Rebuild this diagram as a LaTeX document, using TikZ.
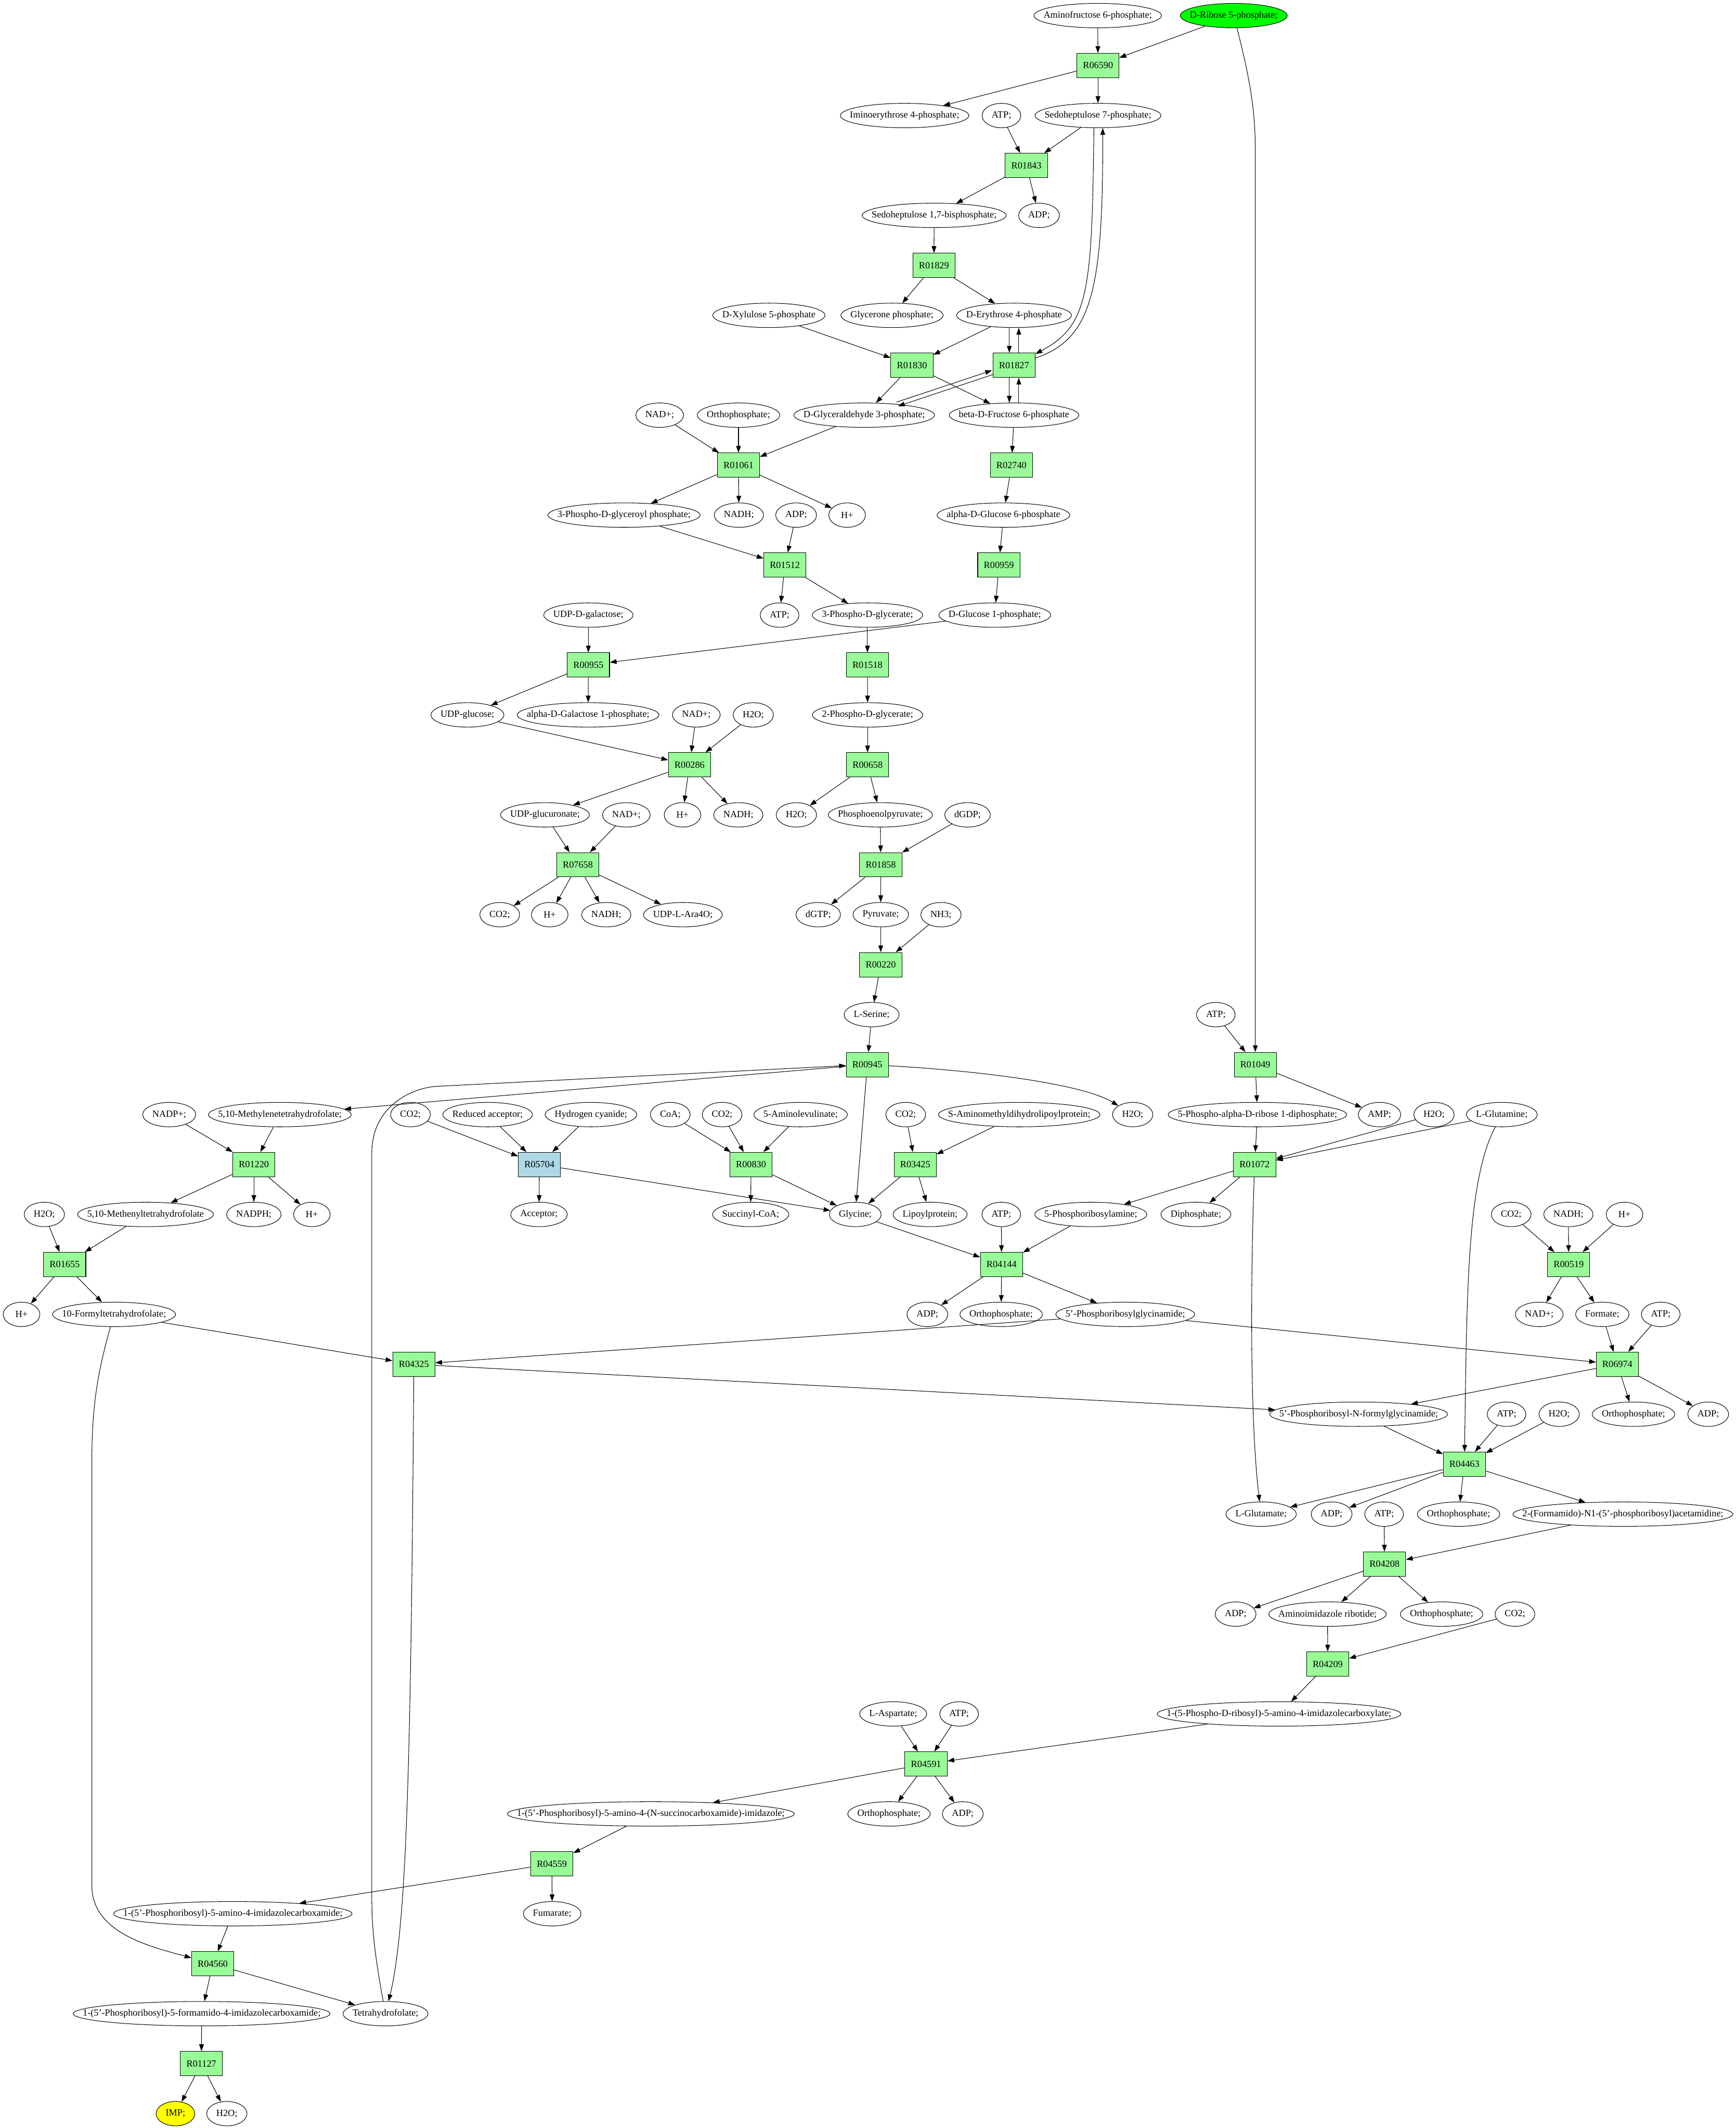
\documentclass[tikz,border=0pt]{standalone}
\usepackage{fontspec}
\setmainfont{Liberation Serif}
\usetikzlibrary{shapes.geometric,arrows.meta}
\newcommand{\mt}[1]{\makebox[0.707\width]{#1}}
\definecolor{pgreen}{HTML}{98FB98}
\definecolor{lblue}{HTML}{ADD8E6}
\definecolor{rgreen}{HTML}{00FF00}
\definecolor{impy}{HTML}{FFFF00}
\begin{document}
\begin{tikzpicture}[x=2pt,y=-2pt,
  every node/.style={font=\fontsize{14pt}{16pt}\selectfont},
  ell/.style={draw,ellipse,inner xsep=10pt,inner ysep=0pt,minimum width=54pt,minimum height=36pt,line width=0.8pt},
  rxn/.style={draw,rectangle,fill=pgreen,inner xsep=9pt,inner ysep=0pt,minimum width=54pt,minimum height=36pt,line width=0.8pt},
  arr/.style={-{Triangle[length=10pt,width=7pt]},line width=0.8pt}]
\fill[white] (0,0) rectangle (1280,1569);
\useasboundingbox (0,0) rectangle (1280,1569);
% row 0
\node[ell,fill=rgreen] (rib) at (909.8,11.5) {\mt{D-Ribose 5-phosphate;}};
\node[ell] (amf) at (809.5,11.5) {\mt{Aminofructose 6-phosphate;}};
\node[rxn] (r06590) at (809.7,48.3) {R06590};
\node[ell] (imino) at (667.1,85.2) {\mt{Iminoerythrose 4-phosphate;}};
\node[ell] (atp2) at (738.5,85.2) {\mt{ATP;}};
\node[ell] (sedo7) at (809.7,85.2) {\mt{Sedoheptulose 7-phosphate;}};
\node[rxn] (r01843) at (756.9,122.0) {R01843};
\node[ell] (sedobis) at (688.9,158.8) {\mt{Sedoheptulose 1,7-bisphosphate;}};
\node[ell] (adp4) at (766.2,158.8) {\mt{ADP;}};
\node[rxn] (r01829) at (688.7,195.7) {R01829};
\node[ell] (xyl) at (567,232.5) {\mt{D-Xylulose 5-phosphate}};
\node[ell] (glyc) at (657.8,232.5) {\mt{Glycerone phosphate;}};
\node[ell] (ery) at (747.8,232.5) {\mt{D-Erythrose 4-phosphate}};
\node[rxn] (r01830) at (672.5,269.3) {R01830};
\node[rxn] (r01827) at (747.8,269.3) {R01827};
\node[ell] (nad8) at (486.5,306.1) {\mt{NAD+;}};
\node[ell] (orth8) at (544.6,306.1) {\mt{Orthophosphate;}};
\node[ell] (gap) at (637.3,306.1) {\mt{D-Glyceraldehyde 3-phosphate;}};
\node[ell] (f6p) at (747.8,306.1) {\mt{beta-D-Fructose 6-phosphate}};
\node[rxn] (r01061) at (544.6,343.0) {R01061};
\node[rxn] (r02740) at (745.9,343.0) {R02740};
\node[ell] (bpg) at (460.2,379.8) {\mt{3-Phospho-D-glyceroyl phosphate;}};
\node[ell] (nadh10) at (544.9,379.8) {\mt{NADH;}};
\node[ell] (adp10) at (587.1,379.8) {\mt{ADP;}};
\node[ell] (hp10) at (624.7,379.8) {\mt{H+}};
\node[ell] (g6p) at (740.0,379.8) {\mt{alpha-D-Glucose 6-phosphate}};
\node[rxn] (r01512) at (578.8,416.6) {R01512};
\node[rxn] (r00959) at (736.6,416.6) {R00959};
\node[ell] (udpgal) at (433.9,453.5) {\mt{UDP-D-galactose;}};
\node[ell] (atp12) at (574.9,453.5) {\mt{ATP;}};
\node[ell] (pg3) at (639.7,453.5) {\mt{3-Phospho-D-glycerate;}};
\node[ell] (g1p) at (733.6,453.5) {\mt{D-Glucose 1-phosphate;}};
\node[rxn] (r00955) at (433.9,490.3) {R00955};
\node[rxn] (r01518) at (639.7,490.3) {R01518};
\node[ell] (udpglc) at (344.7,527.1) {\mt{UDP-glucose;}};
\node[ell] (gal1p) at (433.7,527.1) {\mt{alpha-D-Galactose 1-phosphate;}};
\node[ell] (nad14) at (513.5,527.1) {\mt{NAD+;}};
\node[ell] (h2o14) at (555.5,527.1) {\mt{H2O;}};
\node[ell] (pg2) at (639.8,527.1) {\mt{2-Phospho-D-glycerate;}};
\node[rxn] (r00286) at (508.5,563.9) {R00286};
\node[rxn] (r00658) at (639.8,563.9) {R00658};
\node[ell] (udpglca) at (401.9,600.8) {\mt{UDP-glucuronate;}};
\node[ell] (nad16) at (461.9,600.8) {\mt{NAD+;}};
\node[ell] (hp16) at (503.3,600.8) {\mt{H+}};
\node[ell] (nadh16) at (544.5,600.8) {\mt{NADH;}};
\node[ell] (h2o16) at (587.3,600.8) {\mt{H2O;}};
\node[ell] (pep) at (649.2,600.8) {\mt{Phosphoenolpyruvate;}};
\node[ell] (dgdp) at (713.5,600.8) {\mt{dGDP;}};
\node[rxn] (r07658) at (426.1,637.6) {R07658};
\node[rxn] (r01858) at (649.5,637.6) {R01858};
\node[ell] (co218) at (368.5,674.4) {\mt{CO2;}};
\node[ell] (hp18) at (405.4,674.4) {\mt{H+}};
\node[ell] (nadh18) at (447.1,674.4) {\mt{NADH;}};
\node[ell] (ara) at (503.6,674.4) {\mt{UDP-L-Ara4O;}};
\node[ell] (dgtp) at (603.4,674.4) {\mt{dGTP;}};
\node[ell] (pyr) at (649.5,674.4) {\mt{Pyruvate;}};
\node[ell] (nh3) at (693.9,674.4) {\mt{NH3;}};
\node[rxn] (r00220) at (649.5,711.3) {R00220};
\node[ell] (ser) at (642.8,748.1) {\mt{L-Serine;}};
\node[ell] (atp20) at (896.6,748.1) {\mt{ATP;}};
\node[rxn] (r00945) at (639.6,784.9) {R00945};
\node[rxn] (r01049) at (925.7,784.9) {R01049};
% row 22
\node[ell] (nadp) at (124.8,821.8) {\mt{NADP+;}};
\node[ell] (mthf) at (206.4,821.8) {\mt{5,10-Methylenetetrahydrofolate;}};
\node[ell] (co2a) at (302.7,821.8) {\mt{CO2;}};
\node[ell] (redacc) at (359.6,821.8) {\mt{Reduced acceptor;}};
\node[ell] (hcn) at (435.8,821.8) {\mt{Hydrogen cyanide;}};
\node[ell] (coa) at (494.3,821.8) {\mt{CoA;}};
\node[ell] (co2b) at (532.5,821.8) {\mt{CO2;}};
\node[ell] (ala) at (590.4,821.8) {\mt{5-Aminolevulinate;}};
\node[ell] (co2c) at (667.9,821.8) {\mt{CO2;}};
\node[ell] (samdl) at (751.6,821.8) {\mt{S-Aminomethyldihydrolipoylprotein;}};
\node[ell] (h2o22) at (835.3,821.8) {\mt{H2O;}};
\node[ell] (prpp) at (927.3,821.8) {\mt{5-Phospho-alpha-D-ribose 1-diphosphate;}};
\node[ell] (amp) at (1017.3,821.8) {\mt{AMP;}};
\node[ell] (h2o22b) at (1057.5,821.8) {\mt{H2O;}};
\node[ell] (gln) at (1107.5,821.8) {\mt{L-Glutamine;}};
% row 23
\node[rxn] (r01220) at (187.2,858.6) {R01220};
\node[rxn,fill=lblue] (r05704) at (397.8,858.6) {R05704};
\node[rxn] (r00830) at (553.8,858.6) {R00830};
\node[rxn] (r03425) at (674.9,858.6) {R03425};
\node[rxn] (r01072) at (925.2,858.6) {R01072};
% row 24
\node[ell] (h2o24) at (32.7,895.4) {\mt{H2O;}};
\node[ell] (methf) at (107.3,895.4) {\mt{5,10-Methenyltetrahydrofolate}};
\node[ell] (nadph) at (187.2,895.4) {\mt{NADPH;}};
\node[ell] (hp24) at (230.0,895.4) {\mt{H+}};
\node[ell] (acc) at (397.5,895.4) {\mt{Acceptor;}};
\node[ell] (succ) at (553.6,895.4) {\mt{Succinyl-CoA;}};
\node[ell] (gly) at (630.7,895.4) {\mt{Glycine;}};
\node[ell] (lipo) at (685.9,895.4) {\mt{Lipoylprotein;}};
\node[ell] (atp24) at (738.4,895.4) {\mt{ATP;}};
\node[ell] (pra) at (804.4,895.4) {\mt{5-Phosphoribosylamine;}};
\node[ell] (ppi) at (881.9,895.4) {\mt{Diphosphate;}};
\node[ell] (co224) at (1114.4,895.4) {\mt{CO2;}};
\node[ell] (nadh24) at (1156.6,895.4) {\mt{NADH;}};
\node[ell] (hp24b) at (1198.0,895.4) {\mt{H+}};
% row 25
\node[rxn] (r01655) at (47.7,932.3) {R01655};
\node[rxn] (r04144) at (738.6,932.3) {R04144};
\node[rxn] (r00519) at (1156.8,932.3) {R00519};
% row 26
\node[ell] (hp26) at (15.9,969.1) {\mt{H+}};
\node[ell] (fthf) at (84.1,969.1) {\mt{10-Formyltetrahydrofolate;}};
\node[ell] (adp26) at (683.9,969.1) {\mt{ADP;}};
\node[ell] (orth26) at (738.3,969.1) {\mt{Orthophosphate;}};
\node[ell] (gar) at (829.8,969.1) {\mt{5'-Phosphoribosylglycinamide;}};
\node[ell] (nad26) at (1135.1,969.1) {\mt{NAD+;}};
\node[ell] (formate) at (1181.6,969.1) {\mt{Formate;}};
\node[ell] (atp26) at (1224.7,969.1) {\mt{ATP;}};
% row 27
\node[rxn] (r04325) at (305.2,1005.9) {R04325};
\node[rxn] (r06974) at (1192.7,1005.9) {R06974};
% row 28
\node[ell] (fgar) at (1001.9,1042.7) {\mt{5'-Phosphoribosyl-N-formylglycinamide;}};
\node[ell] (atp28) at (1111.0,1042.7) {\mt{ATP;}};
\node[ell] (h2o28) at (1149.8,1042.7) {\mt{H2O;}};
\node[ell] (orth28) at (1204.6,1042.7) {\mt{Orthophosphate;}};
\node[ell] (adp28) at (1259.7,1042.7) {\mt{ADP;}};
\node[rxn] (r04463) at (1079.9,1079.6) {R04463};
% row 30
\node[ell] (glu) at (930.0,1116.4) {\mt{L-Glutamate;}};
\node[ell] (adp30) at (982.0,1116.4) {\mt{ADP;}};
\node[ell] (atp30) at (1020.7,1116.4) {\mt{ATP;}};
\node[ell] (orth30) at (1075.6,1116.4) {\mt{Orthophosphate;}};
\node[ell] (fgam) at (1196.8,1116.4) {\mt{2-(Formamido)-N1-(5'-phosphoribosyl)acetamidine;}};
\node[rxn] (r04208) at (1021.0,1153.2) {R04208};
% row 32
\node[ell] (adp32) at (911.2,1190.1) {\mt{ADP;}};
\node[ell] (air) at (979.0,1190.1) {\mt{Aminoimidazole ribotide;}};
\node[ell] (orth32) at (1063.1,1190.1) {\mt{Orthophosphate;}};
\node[ell] (co232) at (1117.2,1190.1) {\mt{CO2;}};
\node[rxn] (r04209) at (979.1,1226.9) {R04209};
% row 34
\node[ell] (asp) at (658.7,1263.7) {\mt{L-Aspartate;}};
\node[ell] (atp34) at (707.3,1263.7) {\mt{ATP;}};
\node[ell] (cair) at (943.2,1263.7) {\mt{1-(5-Phospho-D-ribosyl)-5-amino-4-imidazolecarboxylate;}};
\node[rxn] (r04591) at (682.9,1300.6) {R04591};
% row 36
\node[ell] (saicar) at (479.9,1337.4) {\mt{1-(5'-Phosphoribosyl)-5-amino-4-(N-succinocarboxamide)-imidazole;}};
\node[ell] (orth36) at (655.6,1337.4) {\mt{Orthophosphate;}};
\node[ell] (adp36) at (710.0,1337.4) {\mt{ADP;}};
\node[rxn] (r04559) at (407.0,1374.2) {R04559};
% row 38
\node[ell] (aicar) at (171.7,1411.0) {\mt{1-(5'-Phosphoribosyl)-5-amino-4-imidazolecarboxamide;}};
\node[ell] (fum) at (407.2,1411.0) {\mt{Fumarate;}};
\node[rxn] (r04560) at (156.9,1447.9) {R04560};
% row 40
\node[ell] (faicar) at (148.7,1484.7) {\mt{1-(5'-Phosphoribosyl)-5-formamido-4-imidazolecarboxamide;}};
\node[ell] (thf) at (284.3,1484.7) {\mt{Tetrahydrofolate;}};
\node[rxn] (r01127) at (148.5,1521.5) {R01127};
\node[ell,fill=impy] (imp) at (129.4,1558.4) {\mt{IMP;}};
\node[ell] (h2o42) at (167.3,1558.4) {\mt{H2O;}};
% helper coordinates
\coordinate (rb1) at (925.7,110);
\coordinate (ta) at (274.2,1400);
\coordinate (tb) at (274.2,850);
\coordinate (tc) at (321,801);
\coordinate (fa) at (67.7,1080);
\coordinate (fb) at (67.7,1390);
% straight connectors
\foreach \a/\b in {amf/r06590, rib/r06590, r06590/imino, r06590/sedo7, atp2/r01843, sedo7/r01843,
  r01843/sedobis, r01843/adp4, sedobis/r01829, r01829/glyc, r01829/ery, xyl/r01830, ery/r01830,
  r01830/gap, r01830/f6p, gap/r01061, nad8/r01061, orth8/r01061, r01061/bpg, r01061/nadh10, r01061/hp10,
  bpg/r01512, adp10/r01512, r01512/atp12, r01512/pg3, f6p/r02740, r02740/g6p, g6p/r00959, r00959/g1p,
  g1p/r00955, udpgal/r00955, r00955/udpglc, r00955/gal1p, pg3/r01518, r01518/pg2, pg2/r00658,
  r00658/h2o16, r00658/pep, udpglc/r00286, nad14/r00286, h2o14/r00286, r00286/udpglca, r00286/hp16,
  r00286/nadh16, udpglca/r07658, nad16/r07658, r07658/co218, r07658/hp18, r07658/nadh18, r07658/ara,
  pep/r01858, dgdp/r01858, r01858/dgtp, r01858/pyr, pyr/r00220, nh3/r00220, r00220/ser, ser/r00945,
  r00945/mthf, r00945/gly, atp20/r01049, r01049/prpp, r01049/amp, nadp/r01220, mthf/r01220,
  r01220/methf, r01220/nadph, r01220/hp24, co2a/r05704, redacc/r05704, hcn/r05704, r05704/acc,
  r05704/gly, coa/r00830, co2b/r00830, ala/r00830, r00830/succ, r00830/gly, co2c/r03425, samdl/r03425,
  r03425/gly, r03425/lipo, prpp/r01072, h2o22b/r01072, gln/r01072, r01072/pra, r01072/ppi,
  h2o24/r01655, methf/r01655, r01655/hp26, r01655/fthf, gly/r04144, atp24/r04144, pra/r04144,
  r04144/adp26, r04144/orth26, r04144/gar, co224/r00519, nadh24/r00519, hp24b/r00519, r00519/nad26,
  r00519/formate, fthf/r04325, gar/r04325, gar/r06974, formate/r06974, atp26/r06974, r06974/fgar,
  r06974/orth28, r06974/adp28, r04325/fgar, fgar/r04463, atp28/r04463, h2o28/r04463, r04463/glu,
  r04463/adp30, r04463/orth30, r04463/fgam, fgam/r04208, atp30/r04208, r04208/adp32, r04208/air,
  r04208/orth32, air/r04209, co232/r04209, r04209/cair, cair/r04591, asp/r04591, atp34/r04591,
  r04591/saicar, r04591/orth36, r04591/adp36, saicar/r04559, r04559/aicar, r04559/fum, aicar/r04560,
  r04560/faicar, r04560/thf, faicar/r01127, r01127/imp, r01127/h2o42}
  \draw[arr] (\a) -- (\b);
% paired connectors
\draw[arr,transform canvas={xshift=-7pt}] (ery) -- (r01827);
\draw[arr,transform canvas={xshift=7pt}] (r01827) -- (ery);
\draw[arr,transform canvas={xshift=-7pt}] (r01827) -- (f6p);
\draw[arr,transform canvas={xshift=7pt}] (f6p) -- (r01827);
\draw[arr,transform canvas={shift={(-0.5,-1.5)}}] (gap) -- (r01827);
\draw[arr,transform canvas={shift={(0.5,1.5)}}] (r01827) -- (gap);
% curved connectors
\draw[arr] ([xshift=-6pt]sedo7.south) .. controls (805.3,215) and (803,240) .. (r01827);
\draw[arr] (r01827) .. controls (805,250) and (813.5,215) .. ([xshift=7pt]sedo7.south);
\draw[arr] (rib) .. controls (921,55) and (925.7,80) .. (rb1) -- (r01049);
\draw[arr] (r00945) .. controls (730,790) and (800,800) .. (h2o22);
\draw[arr] (thf) .. controls (276,1440) and (274.2,1420) .. (ta) -- (tb) .. controls (274.2,818) and (300,803) .. (tc) -- (r00945);
\draw[arr] (fthf) .. controls (71,1015) and (67.7,1040) .. (fa) -- (fb) .. controls (67.7,1425) and (110,1435) .. (r04560);
\draw[arr] (r04325) .. controls (303,1300) and (300,1420) .. (thf);
\draw[arr] (r01072) .. controls (922,950) and (922,1050) .. (glu);
\draw[arr] (gln) .. controls (1082,870) and (1081.7,950) .. (r04463);
\end{tikzpicture}
\end{document}
